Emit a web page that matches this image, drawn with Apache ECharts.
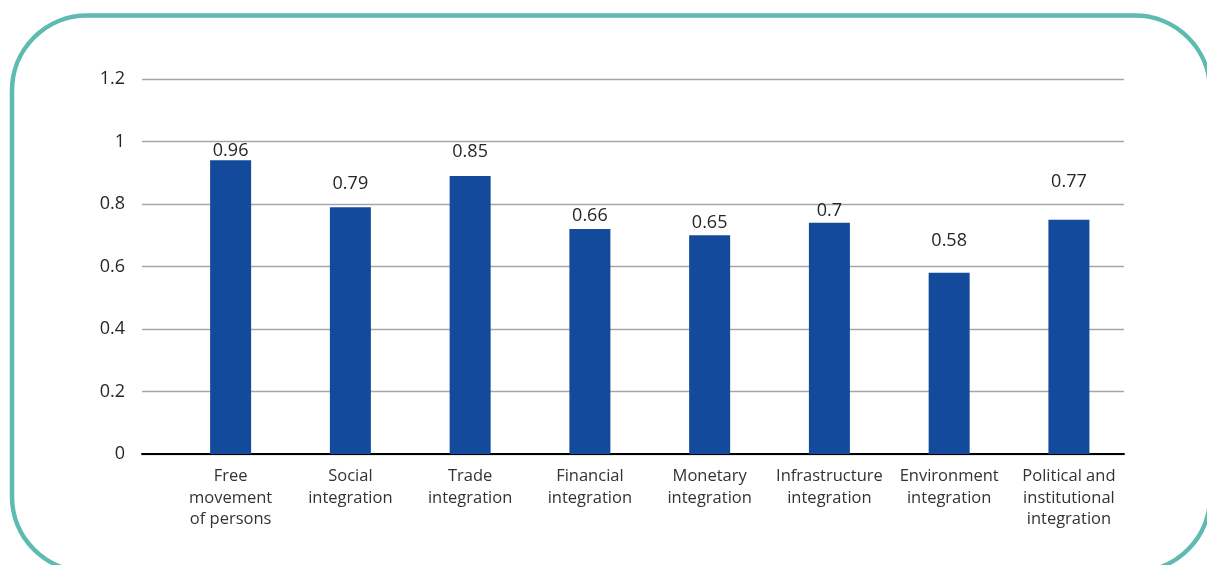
<!DOCTYPE html>
<html>
<head>
<meta charset="utf-8">
<script src="https://cdn.jsdelivr.net/npm/echarts@6/dist/echarts.min.js"></script>
<style>
html,body{margin:0;padding:0;background:#fff;}
#chart{width:1207px;height:565px;}
</style>
</head>
<body>
<div id="chart"></div>
<script>
// ---- data ----
const categories = [
  "Free\nmovement\nof persons",
  "Social\nintegration",
  "Trade\nintegration",
  "Financial\nintegration",
  "Monetary\nintegration",
  "Infrastructure\nintegration",
  "Environment\nintegration",
  "Political and\ninstitutional\nintegration"
];
// bar heights as drawn in the picture
const barValues = [0.94, 0.79, 0.89, 0.72, 0.70, 0.74, 0.58, 0.75];
// value labels as printed above the bars
const labelValues = ["0.96", "0.79", "0.85", "0.66", "0.65", "0.7", "0.58", "0.77"];
const yTicks = [0, 0.2, 0.4, 0.6, 0.8, 1, 1.2];

// ---- styles ----
const labelLift = [0, 14, 15, 4, 3, 3, 23, 29];

const chart = echarts.init(document.getElementById('chart'), null, {renderer: 'canvas'});

const seriesData = barValues.map((v, i) => ({
  value: [i, v],
  label: {distance: labelLift[i], formatter: () => labelValues[i]}
}));

const option = {
  backgroundColor: '#ffffff',
  animation: false,
  graphic: [{
    type: 'rect',
    shape: {x: 12, y: 15.5, width: 1198, height: 556, r: 75},
    style: {fill: 'none', stroke: '#5dbbb2', lineWidth: 4.5},
    silent: true,
    z: 0
  }],
  grid: {left: 142, right: 83, top: 79, bottom: 111, containLabel: false},
  xAxis: {
    type: 'value',
    min: -0.74,
    max: 7.46,
    axisLine: {show: true, onZero: true, lineStyle: {color: '#000', width: 2}},
    axisTick: {show: false},
    splitLine: {show: false},
    axisLabel: {
      customValues: categories.map((c, i) => i),
      formatter: (v) => categories[Math.round(v)] || '',
      color: '#333',
      fontFamily: 'Open Sans',
      fontSize: 16.5,
      lineHeight: 21.5,
      margin: 12,
      align: 'center',
      verticalAlign: 'top'
    }
  },
  yAxis: {
    type: 'value',
    min: yTicks[0],
    max: yTicks[yTicks.length - 1],
    interval: 0.2,
    axisLine: {show: false},
    axisTick: {show: false},
    splitLine: {show: true, lineStyle: {color: '#a6a6a6', width: 1.3}},
    axisLabel: {
      color: '#262626',
      fontFamily: 'Open Sans',
      fontSize: 18,
      margin: 17,
      formatter: (v) => String(Math.round(v * 10) / 10)
    }
  },
  series: [{
    type: 'bar',
    data: seriesData,
    barWidth: 41,
    itemStyle: {color: '#134a9c'},
    label: {
      show: true,
      position: 'top',
      color: '#262626',
      fontFamily: 'Open Sans',
      fontSize: 18
    }
  }]
};
chart.setOption(option);
</script>
</body>
</html>
